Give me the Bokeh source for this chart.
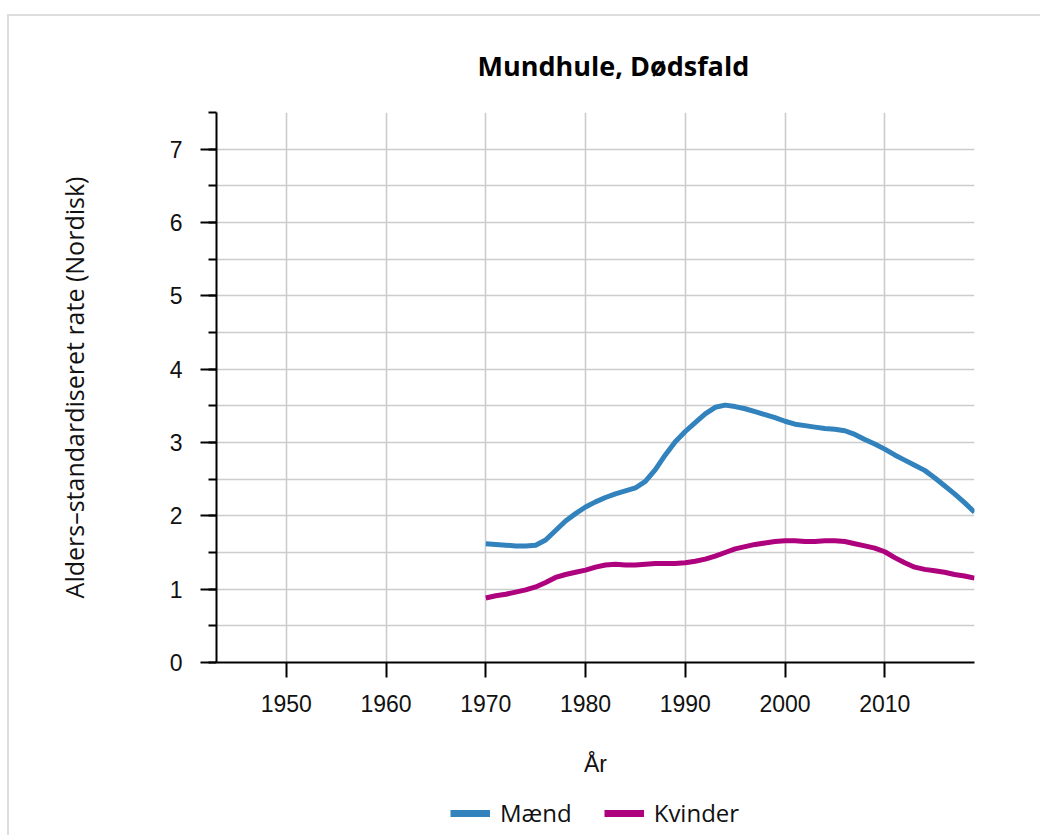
from bokeh.plotting import figure
from bokeh.layouts import column
from bokeh.models import Range1d, FixedTicker, SingleIntervalTicker, Legend
from bokeh.embed import file_html
from bokeh.resources import INLINE

# ---- data ----
title_text = "Mundhule, Dødsfald"
x_label = "År"
y_label = "Alders–standardiseret rate (Nordisk)"
x_ticks = [1950, 1960, 1970, 1980, 1990, 2000, 2010]
x_start, x_end = 1943, 2019
y_start, y_end = 0, 7.5

years = list(range(1970, 2020))
maend = [1.62, 1.61, 1.60, 1.59, 1.59, 1.60, 1.67, 1.80, 1.93, 2.03,
         2.12, 2.19, 2.25, 2.30, 2.34, 2.38, 2.47, 2.63, 2.83, 3.01,
         3.15, 3.27, 3.39, 3.48, 3.51, 3.49, 3.46, 3.42, 3.38, 3.34,
         3.29, 3.25, 3.23, 3.21, 3.19, 3.18, 3.16, 3.11, 3.04, 2.98,
         2.91, 2.83, 2.76, 2.69, 2.62, 2.52, 2.41, 2.30, 2.18, 2.05]
kvinder = [0.88, 0.91, 0.93, 0.96, 0.99, 1.03, 1.09, 1.16, 1.20, 1.23,
           1.26, 1.30, 1.33, 1.34, 1.33, 1.33, 1.34, 1.35, 1.35, 1.35,
           1.36, 1.38, 1.41, 1.45, 1.50, 1.55, 1.58, 1.61, 1.63, 1.65,
           1.66, 1.66, 1.65, 1.65, 1.66, 1.66, 1.65, 1.62, 1.59, 1.56,
           1.51, 1.43, 1.36, 1.30, 1.27, 1.25, 1.23, 1.20, 1.18, 1.15]
series_names = ["Mænd", "Kvinder"]
series_colors = ["#3182bd", "#ae017e"]
series_values = [maend, kvinder]

p = figure(frame_width=758, frame_height=550,
           x_range=Range1d(x_start, x_end), y_range=Range1d(y_start, y_end),
           min_border_left=207, min_border_right=66,
           min_border_top=95, min_border_bottom=125,
           output_backend="svg", toolbar_location=None)
p.outline_line_color = None
p.background_fill_color = "white"
p.border_fill_color = "white"

# title
p.title.text = title_text
p.title.align = "left"
p.title.offset = 261
p.title.text_font = "Open Sans"
p.title.text_font_style = "bold"
p.title.text_font_size = "27px"
p.title.text_color = "#000000"
p.title.standoff = 57

# x axis
xa = p.xaxis[0]
xa.ticker = FixedTicker(ticks=x_ticks, minor_ticks=[])
xa.axis_label = x_label
xa.axis_line_width = 2
xa.axis_line_color = "black"
xa.major_tick_line_width = 2
xa.major_tick_line_color = "black"
xa.major_tick_out = 15
xa.major_tick_in = 0
xa.minor_tick_out = 0
xa.minor_tick_in = 0
xa.major_label_standoff = 17
xa.major_label_text_font = "Liberation Sans"
xa.major_label_text_font_size = "23px"
xa.major_label_text_color = "#111111"
xa.axis_label_text_font = "Liberation Sans"
xa.axis_label_text_font_size = "23px"
xa.axis_label_text_font_style = "normal"
xa.axis_label_text_color = "#111111"
xa.axis_label_standoff = 36

# y axis
ya = p.yaxis[0]
ya.ticker = SingleIntervalTicker(interval=1, num_minor_ticks=2)
ya.axis_label = y_label
ya.axis_line_width = 2
ya.axis_line_color = "black"
ya.major_tick_line_width = 2
ya.major_tick_line_color = "black"
ya.minor_tick_line_width = 2
ya.minor_tick_line_color = "black"
ya.major_tick_out = 16
ya.major_tick_in = 0
ya.minor_tick_out = 8
ya.minor_tick_in = 0
ya.major_label_standoff = 18
ya.major_label_text_font = "Liberation Sans"
ya.major_label_text_font_size = "23px"
ya.major_label_text_color = "#111111"
ya.axis_label_text_font = "Open Sans"
ya.axis_label_text_font_size = "25px"
ya.axis_label_text_font_style = "normal"
ya.axis_label_text_color = "#111111"
ya.axis_label_standoff = 76

# grids
p.xgrid.ticker = FixedTicker(ticks=x_ticks)
p.ygrid.ticker = SingleIntervalTicker(interval=0.5)
p.xgrid.grid_line_color = "#cccccc"
p.ygrid.grid_line_color = "#cccccc"
p.xgrid.grid_line_width = 1.6
p.ygrid.grid_line_width = 1.6

for vals, col in zip(series_values, series_colors):
    p.line(years, vals, line_color=col, line_width=5, line_join="round")

# legend strip (separate small figure below the chart; its lines fall outside its range)
lf = figure(width=1031, height=48, x_range=Range1d(0, 1), y_range=Range1d(0, 1),
            x_axis_location=None, y_axis_location=None, min_border=0,
            output_backend="svg", toolbar_location=None)
lf.grid.visible = False
lf.outline_line_color = None
lf.background_fill_color = "white"
lf.border_fill_color = "white"
leg_renderers = [lf.line(years, vals, line_color=c, line_width=7)
                 for vals, c in zip(series_values, series_colors)]
legend = Legend(items=[(n, [r]) for n, r in zip(series_names, leg_renderers)],
                orientation="horizontal", location=(234, 6),
                border_line_color=None, background_fill_alpha=0,
                label_text_font="Open Sans", label_text_font_size="24px",
                label_text_color="#111111",
                glyph_width=40, glyph_height=24, spacing=32, label_standoff=10,
                margin=0, padding=0)
lf.add_layout(legend, "center")

layout = column(p, lf, spacing=0,
                styles={"border-top": "2px solid #dddddd",
                        "border-left": "2px solid #dddddd",
                        "margin-top": "14px", "margin-left": "7px"})

open("out.html", "w").write(file_html(layout, INLINE))
